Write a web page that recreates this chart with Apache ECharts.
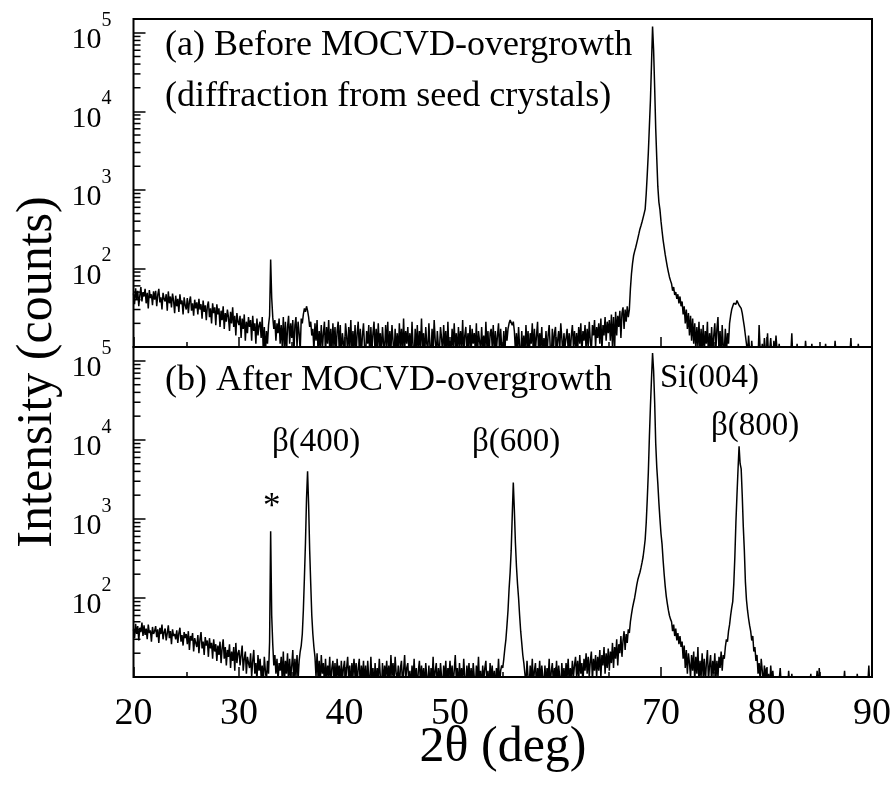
<!DOCTYPE html>
<html>
<head>
<meta charset="utf-8">
<script src="https://cdn.jsdelivr.net/npm/echarts@6/dist/echarts.min.js"></script>
<style>
html,body{margin:0;padding:0;background:#fff;}
#chart{width:894px;height:788px;}
</style>
</head>
<body>
<div id="chart"></div>
<script>
// 2theta sampling grid (deg)
const ANGLE_START = 20;
const ANGLE_STEP = 0.1;
const X_TICKS = [20, 30, 40, 50, 60, 70, 80, 90];
const Y_TICK_LABELS = ['10^2', '10^3', '10^4', '10^5'];
const Y_MINOR_TICKS = [20,30,40,50,60,70,80,90,200,300,400,500,600,700,800,900,2000,3000,4000,5000,6000,7000,8000,9000,20000,30000,40000,50000,60000,70000,80000,90000];

// (a) Before MOCVD-overgrowth: counts, one value per 0.1 deg from 20.0 to 90.0
const BEFORE_COUNTS = [
48,35,56,41,52,33,45,58,38,50,
44,55,36,49,31,53,42,47,34,51,
40,52,33,46,55,37,43,30,49,41,
38,47,29,51,36,44,32,48,39,27,
45,33,41,28,47,35,39,26,43,34,
30,42,27,38,44,29,36,25,40,31,
37,26,41,30,35,23,39,28,34,22,
33,38,24,31,20,36,27,32,19,35,
26,31,18,29,22,33,17,27,21,30,
24,16,28,20,32,18,25,14,27,21,
19,25,13,23,17,26,12,21,15,24,
18,22,12,25,16,20,11,23,14,19,
21,13,24,9,18,8,16,11,19,25,
130,42,24,17,22,12,20,15,23,11,
19,10,24,9,21,8,18,25,11,20,
13,22,8,19,24,10,21,15,9,23,
20,26,31,28,33,29,24,18,21,14,
17,9,20,12,22,8,16,10,19,9,
15,21,8,18,11,22,9,17,8,20,
10,18,8,16,21,9,19,7,15,11,
9,20,14,8,18,10,22,8,16,9,
19,8,15,21,9,17,8,14,20,10,
8,16,11,19,7,18,9,15,21,8,
17,9,20,10,15,8,18,11,9,19,
10,21,8,16,9,19,12,7,17,9,
15,8,20,10,17,8,23,9,16,11,
18,9,15,8,21,10,7,17,9,19,
8,16,10,23,9,15,7,18,11,9,
20,10,8,17,9,22,12,8,16,10,
9,18,13,8,19,10,16,7,21,9,
12,8,17,10,20,9,15,8,18,10,
16,9,22,8,14,18,8,15,10,19,
8,17,11,15,9,20,7,16,12,9,
18,9,14,8,21,10,16,7,15,17,
10,19,8,16,9,14,20,8,17,10,
9,16,8,18,12,17,20,22,23,19,
21,16,9,15,8,18,10,7,16,9,
14,8,19,10,16,7,15,11,20,8,
17,9,14,21,8,15,10,18,7,13,
9,16,8,14,19,10,7,17,9,15,
18,8,12,16,9,20,13,8,15,10,
13,17,9,15,8,14,19,10,16,9,
15,9,18,11,20,8,16,12,19,9,
17,10,21,12,9,19,14,22,10,18,
13,20,11,23,9,19,14,24,12,21,
15,22,12,26,10,24,9,28,14,25,
18,29,13,27,32,17,30,21,33,24,
30,55,85,115,145,165,185,210,240,275,
316,350,390,440,500,570,900,1600,3000,6500,
14000,40000,120000,60000,20000,6000,2500,1100,700,560,
400,300,230,185,150,125,105,90,78,70,
64,52,58,46,50,41,47,36,44,33,
38,26,33,20,30,17,27,14,25,12,
23,11,20,9,18,10,21,8,17,9,
19,8,16,11,21,7,15,9,18,8,
14,20,9,17,24,8,16,7,19,10,
9,17,8,15,11,20,25,30,33,36,
38,35,39,37,34,36,31,27,22,18,
14,11,8,14,9,7,12,8,9,7,
8,10,7,19,9,8,11,7,13,9,
8,15,7,9,13,8,7,12,8,14,
9,7,11,8,7,10,8,9,7,8,
8,10,7,8,15,7,9,8,7,11,
7,9,8,7,10,8,7,12,8,7,
9,7,8,11,7,8,9,7,10,8,
7,8,10,7,8,7,11,8,7,9,
8,7,9,8,7,12,8,7,8,7,
9,8,7,10,8,7,8,9,7,8,
13,7,8,7,9,8,7,11,8,7,
8,7,9,8,7,8,7,8,10,7,
8
];

// (b) After MOCVD-overgrowth: counts, one value per 0.1 deg from 20.0 to 90.0
const AFTER_COUNTS = [
40,31,47,35,44,29,42,37,49,33,
45,34,41,30,46,36,39,28,43,35,
38,44,32,40,27,42,35,46,30,37,
41,29,36,45,31,38,26,40,33,35,
30,39,27,36,42,28,34,25,37,31,
35,26,38,22,33,29,36,21,31,27,
24,34,20,30,37,23,28,19,32,25,
29,18,31,23,27,17,30,21,26,16,
25,19,28,15,23,30,17,24,14,22,
18,26,13,21,16,24,12,27,15,20,
22,14,19,25,12,17,21,11,18,15,
13,20,10,16,22,11,15,9,19,12,
17,10,14,8,18,12,9,16,11,28,
700,60,26,14,19,11,17,9,15,12,
18,9,21,8,16,11,20,8,17,10,
14,22,8,17,10,19,9,16,21,25,
35,70,180,500,1800,4000,1500,400,150,60,
35,24,18,10,20,9,16,8,19,11,
15,8,17,9,14,10,18,7,13,16,
9,15,8,17,10,14,8,16,9,13,
16,8,13,18,9,14,7,15,10,17,
10,15,8,13,17,7,14,9,16,8,
14,7,16,10,8,18,9,13,7,15,
8,13,9,17,10,7,15,8,14,10,
16,9,14,8,19,10,15,9,18,11,
9,14,7,13,16,8,12,19,9,13,
15,8,12,7,14,9,17,8,13,7,
12,16,8,14,9,13,7,15,10,8,
14,7,13,9,18,8,12,15,7,13,
8,15,10,7,14,9,16,8,13,10,
16,9,14,8,12,19,9,13,7,15,
9,13,8,17,10,7,14,9,15,8,
13,8,15,10,7,14,9,18,8,12,
7,14,9,13,16,8,12,7,15,9,
14,8,12,7,13,9,17,8,12,14,
13,17,23,30,45,70,130,210,400,1100,
2900,1300,500,250,150,100,60,38,27,19,
15,11,8,16,10,7,14,9,17,8,
12,15,7,13,9,16,8,14,10,7,
14,8,13,9,17,7,12,15,8,13,
9,16,8,14,10,7,15,9,13,8,
15,10,17,8,13,9,16,10,14,18,
10,16,9,19,11,15,8,17,12,20,
11,18,10,16,21,9,17,12,19,10,
18,12,22,10,19,14,24,11,20,13,
23,12,21,15,27,13,24,17,30,14,
26,20,33,18,29,38,22,35,27,40,
36,50,62,75,87,100,120,145,170,190,
210,240,280,330,420,550,900,1800,3900,11000,
27000,60000,126000,75000,30000,9000,4500,2800,1600,1000,
650,480,300,200,140,105,85,70,60,54,
50,38,46,33,41,29,36,26,33,24,
28,17,25,13,22,11,20,15,10,19,
12,21,9,18,11,24,8,16,10,20,
10,17,8,15,22,9,14,19,8,16,
11,20,9,16,10,18,13,21,12,19,
17,24,30,28,38,46,60,75,90,150,
330,900,2000,4200,8300,5000,4300,2000,800,400,
160,95,70,55,45,38,29,33,21,24,
16,19,11,15,9,17,12,8,14,10,
13,8,11,7,14,9,12,8,7,10,
8,7,9,13,8,7,10,8,7,9,
7,12,8,7,11,8,7,9,8,7,
9,7,8,10,7,8,7,9,7,8,
7,8,11,7,9,8,7,8,12,7,
13,8,7,9,8,7,10,8,7,8,
7,9,8,7,8,10,7,8,7,9,
8,7,9,8,12,7,8,7,10,8,
7,9,8,7,8,7,11,8,7,9,
8,7,10,8,7,9,8,14,7,8,
8
];

const FONT = 'Liberation Serif';
const toPairs = arr => arr.map((c, i) => [+(ANGLE_START + i * ANGLE_STEP).toFixed(1), c]);

const chart = echarts.init(document.getElementById('chart'), null, {renderer: 'canvas'});

function yLabelFmt(v) {
  const lg = Math.log10(v);
  const e = Math.round(lg);
  if (Math.abs(lg - e) > 1e-6) return '';
  if (Y_TICK_LABELS.indexOf('10^' + e) < 0) return '';
  return '{b|10}{s|' + e + '}';
}

function yAxis(gi) {
  return {
    type: 'log', gridIndex: gi, min: 10, max: 150000, logBase: 10,
    axisLine: {show: false},
    axisTick: {show: true, inside: true, length: 12, lineStyle: {color: '#000', width: 1.5}},
    splitLine: {show: false},
    axisLabel: {
      margin: 22, formatter: yLabelFmt, color: '#000',
      rich: {
        b: {fontSize: 30, fontFamily: FONT, color: '#000', padding: [15, 0, 0, 0]},
        s: {fontSize: 20, fontFamily: FONT, color: '#000', verticalAlign: 'top'}
      }
    }
  };
}

function xAxis(gi, showLabel) {
  return {
    type: 'value', gridIndex: gi, min: 20, max: 90, interval: 10,
    axisLine: {show: false},
    axisTick: {show: true, inside: true, length: 10, lineStyle: {color: '#000', width: 1.5}},
    minorTick: {show: true, splitNumber: 2, length: 5, lineStyle: {color: '#000', width: 1.5}},
    splitLine: {show: false},
    axisLabel: {
      show: showLabel, margin: 18, color: '#000', fontSize: 38, fontFamily: FONT,
      formatter: v => (X_TICKS.indexOf(v) >= 0 ? String(v) : '')
    }
  };
}

function minorTickSeries(gi) {
  return {
    type: 'custom', xAxisIndex: gi, yAxisIndex: gi, silent: true, z: 5,
    data: Y_MINOR_TICKS.map(v => [20, v]),
    renderItem: (params, api) => {
      const p = api.coord([api.value(0), api.value(1)]);
      return {type: 'line', shape: {x1: p[0], y1: p[1], x2: p[0] + 7, y2: p[1]},
              style: {stroke: '#000', lineWidth: 1.5}};
    }
  };
}

const lineStyle = {color: '#000', width: 1.5};
const gridCommon = {left: 133.5, right: 22, show: true, borderColor: '#000', borderWidth: 2, backgroundColor: 'transparent'};
const panelFont = '36px "Liberation Serif"';
const peakFont = '33px "Liberation Serif"';

const option = {
  animation: false,
  backgroundColor: '#fff',
  grid: [
    Object.assign({top: 19, height: 328}, gridCommon),
    Object.assign({top: 347, height: 330}, gridCommon)
  ],
  xAxis: [xAxis(0, false), xAxis(1, true)],
  yAxis: [yAxis(0), yAxis(1)],
  series: [
    {type: 'line', name: 'Before', xAxisIndex: 0, yAxisIndex: 0, data: toPairs(BEFORE_COUNTS),
     showSymbol: false, symbol: 'none', lineStyle: lineStyle, clip: true, z: 3},
    {type: 'line', name: 'After', xAxisIndex: 1, yAxisIndex: 1, data: toPairs(AFTER_COUNTS),
     showSymbol: false, symbol: 'none', lineStyle: lineStyle, clip: true, z: 3},
    minorTickSeries(0),
    minorTickSeries(1)
  ],
  graphic: [
    {type: 'text', left: 165, top: 28, style: {text: '(a) Before MOCVD-overgrowth', font: panelFont, fill: '#000'}},
    {type: 'text', left: 165, top: 79, style: {text: '(diffraction from seed crystals)', font: panelFont, fill: '#000'}},
    {type: 'text', left: 165, top: 363, style: {text: '(b) After MOCVD-overgrowth', font: panelFont, fill: '#000'}},
    {type: 'text', left: 660, top: 362, style: {text: 'Si(004)', font: peakFont, fill: '#000'}},
    {type: 'text', left: 272, top: 426, style: {text: 'β(400)', font: peakFont, fill: '#000'}},
    {type: 'text', left: 472, top: 426, style: {text: 'β(600)', font: peakFont, fill: '#000'}},
    {type: 'text', left: 711, top: 410, style: {text: 'β(800)', font: peakFont, fill: '#000'}},
    {type: 'text', left: 263, top: 490, style: {text: '*', font: '35px "Liberation Serif"', fill: '#000'}},
    {type: 'text', x: 503, y: 748, style: {text: '2θ (deg)', font: '50px "Liberation Serif"', fill: '#000', textAlign: 'center', textVerticalAlign: 'middle'}},
    {type: 'text', x: 38, y: 372, rotation: Math.PI / 2, style: {text: 'Intensity (counts)', font: '50px "Liberation Serif"', fill: '#000', textAlign: 'center', textVerticalAlign: 'middle'}}
  ]
};
chart.setOption(option);
</script>
</body>
</html>
